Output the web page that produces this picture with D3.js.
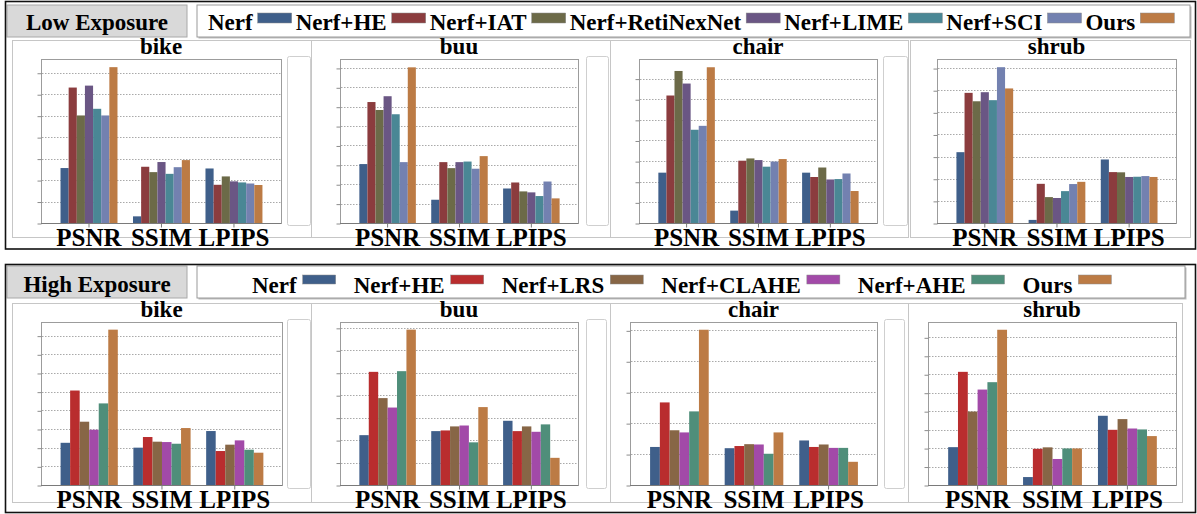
<!DOCTYPE html>
<html><head><meta charset="utf-8">
<script src="https://cdn.jsdelivr.net/npm/d3@7"></script>
<style>
html,body{margin:0;padding:0;background:#fff;}
svg{display:block;}
text{font-family:"Liberation Serif","Times New Roman",serif;font-weight:bold;fill:#000;}
</style></head><body>
<svg id="fig" width="1197" height="514"></svg>
<script>
// ---- data ----
const metrics = ["PSNR", "SSIM", "LPIPS"];
const scenes = ["bike", "buu", "chair", "shrub"];

const lowMethods = ["Nerf", "Nerf+HE", "Nerf+IAT", "Nerf+RetiNexNet", "Nerf+LIME", "Nerf+SCI", "Ours"];
const lowColors = ["#3f5f8a", "#8b3c3e", "#6c6a48", "#6a5684", "#4a8795", "#7381b0", "#bc7b45"];
const highMethods = ["Nerf", "Nerf+HE", "Nerf+LRS", "Nerf+CLAHE", "Nerf+AHE", "Ours"];
const highColors = ["#3f5f8a", "#b92d2e", "#876646", "#a24aa8", "#4f8e7a", "#bc7b45"];

// rows: PSNR, SSIM, LPIPS; columns: methods (values in grid units of each panel)
const lowBike = [
  [2.56, 6.31, 5.01, 6.40, 5.32, 5.01, 7.26],
  [0.31, 2.62, 2.37, 2.84, 2.29, 2.60, 2.93],
  [2.54, 1.78, 2.17, 1.94, 1.89, 1.84, 1.77]];
const lowBuu = [
  [3.04, 6.24, 5.83, 6.54, 5.61, 3.14, 8.03],
  [1.20, 3.14, 2.83, 3.14, 3.17, 2.80, 3.45],
  [1.78, 2.09, 1.63, 1.58, 1.39, 2.14, 1.27]];
const lowChair = [
  [2.44, 6.18, 7.37, 6.76, 4.52, 4.71, 7.55],
  [0.60, 3.02, 3.13, 3.05, 2.73, 2.98, 3.10],
  [2.44, 2.23, 2.69, 2.11, 2.13, 2.40, 1.55]];
const lowShrub = [
  [3.20, 5.88, 5.50, 5.91, 5.55, 7.04, 6.08],
  [0.14, 1.77, 1.17, 1.13, 1.44, 1.76, 1.86],
  [2.87, 2.30, 2.29, 2.08, 2.09, 2.12, 2.08]];

const highBike = [
  [2.26, 5.06, 3.39, 2.96, 4.37, 8.32],
  [2.00, 2.57, 2.32, 2.30, 2.21, 3.05],
  [2.89, 1.82, 2.16, 2.39, 1.89, 1.73]];
const highBuu = [
  [2.22, 5.04, 3.87, 3.45, 5.07, 6.92],
  [2.40, 2.43, 2.61, 2.65, 1.90, 3.47],
  [2.86, 2.40, 2.61, 2.37, 2.70, 1.21]];
const highChair = [
  [1.23, 2.67, 1.77, 1.70, 2.38, 5.02],
  [1.19, 1.26, 1.32, 1.31, 1.01, 1.70],
  [1.44, 1.23, 1.31, 1.20, 1.20, 0.75]];
const highShrub = [
  [2.05, 6.13, 3.98, 5.17, 5.57, 8.41],
  [0.43, 1.96, 2.04, 1.41, 1.98, 1.98],
  [3.75, 2.99, 3.57, 3.06, 3.01, 2.65]];

// top of each value axis
const lowYMax = [7.64, 8.46, 7.95, 7.41];
const highYMax = [8.73, 7.26, 5.27, 8.83];

// ---- layout ----
const sections = [
  {
    title: "Low Exposure", methods: lowMethods, colors: lowColors,
    data: [lowBike, lowBuu, lowChair, lowShrub], yMax: lowYMax,
    border: [5.5, 1.5, 1195.5, 249], head: [7, 5, 180, 32], headTextY: 30,
    legendBox: [197, 5, 993, 32], legendFont: 23, legendStart: 208, legendTextY: 30,
    swY: 13, swH: 10, swW: 34, gapText: 5, gapAfter: 4,
    frameTop: 40, frameBottom: 237, titleY: 54, plotTop: 59, plotBottom: 223, labelY: 246,
    sideTop: 56, sideBottom: 225,
    panels: [
      { x0: 41, w: 240, fx0: 12, fx1: 311, side: [287, 311] },
      { x0: 340, w: 238, fx0: 311, fx1: 610, side: [586, 609] },
      { x0: 639, w: 238, fx0: 610, fx1: 908, side: [883, 908] },
      { x0: 937, w: 239, fx0: 910, fx1: 1190, side: null }]
  },
  {
    title: "High Exposure", methods: highMethods, colors: highColors,
    data: [highBike, highBuu, highChair, highShrub], yMax: highYMax,
    border: [5.5, 264.5, 1195.5, 512.5], head: [7, 266, 180, 32], headTextY: 292,
    legendBox: [197, 266, 988, 32], legendFont: 23, legendStart: 252, legendTextY: 293,
    swY: 275, swH: 9, swW: 33, gapText: 6, gapAfter: 18,
    frameTop: 303, frameBottom: 502, titleY: 317, plotTop: 322, plotBottom: 485, labelY: 508,
    sideTop: 319, sideBottom: 488,
    panels: [
      { x0: 41, w: 241, fx0: 12, fx1: 311, side: [287, 311] },
      { x0: 340, w: 238, fx0: 311, fx1: 610, side: [586, 607] },
      { x0: 630, w: 247, fx0: 610, fx1: 908, side: [884, 905] },
      { x0: 928, w: 248, fx0: 908, fx1: 1182, side: null }]
  }
];

const svg = d3.select("#fig");

function drawSection(s) {
  const g = svg.append("g");

  // header tab and legend box
  g.append("rect").attr("x", s.head[0]).attr("y", s.head[1])
    .attr("width", s.head[2]).attr("height", s.head[3])
    .attr("fill", "#d9d9d9").attr("stroke", "#a8a8a8");
  g.append("text").attr("x", s.head[0] + s.head[2] / 2).attr("y", s.headTextY)
    .attr("text-anchor", "middle").style("font-size", "23px").text(s.title);

  g.append("rect").attr("x", s.legendBox[0] + 1.5).attr("y", s.legendBox[1] + 1.5)
    .attr("width", s.legendBox[2]).attr("height", s.legendBox[3]).attr("fill", "#bdbdbd");
  g.append("rect").attr("x", s.legendBox[0]).attr("y", s.legendBox[1])
    .attr("width", s.legendBox[2]).attr("height", s.legendBox[3])
    .attr("fill", "#fff").attr("stroke", "#9a9a9a");

  let lx = s.legendStart;
  s.methods.forEach((m, i) => {
    const t = g.append("text").attr("x", lx).attr("y", s.legendTextY)
      .style("font-size", s.legendFont + "px").text(m);
    lx += t.node().getComputedTextLength() + s.gapText;
    g.append("rect").attr("x", lx).attr("y", s.swY).attr("width", s.swW).attr("height", s.swH)
      .attr("fill", s.colors[i]).attr("stroke", "#8a8a8a").attr("stroke-width", 0.5);
    lx += s.swW + s.gapAfter;
  });

  // panels
  s.panels.forEach((p, k) => {
    const values = s.data[k];
    const pg = g.append("g");

    pg.append("rect").attr("x", p.fx0 + 0.5).attr("y", s.frameTop + 0.5)
      .attr("width", p.fx1 - p.fx0).attr("height", s.frameBottom - s.frameTop)
      .attr("fill", "none").attr("stroke", "#c6c6c6");

    if (p.side) {
      pg.append("rect").attr("x", p.side[0] + 0.5).attr("y", s.sideTop + 0.5)
        .attr("width", p.side[1] - p.side[0] - 1).attr("height", s.sideBottom - s.sideTop)
        .attr("rx", 2).attr("fill", "#fff").attr("stroke", "#cfcfcf");
    }

    const y = d3.scaleLinear().domain([0, s.yMax[k]]).range([s.plotBottom, s.plotTop]);
    const x = d3.scaleBand().domain(metrics)
      .range([p.x0 + 0.049 * p.w, p.x0 + 0.955 * p.w])
      .paddingInner(0.214).paddingOuter(0.107);
    const xs = d3.scaleBand().domain(d3.range(s.methods.length)).range([0, x.bandwidth()]);

    pg.append("rect").attr("x", p.x0 + 0.5).attr("y", s.plotTop + 0.5)
      .attr("width", p.w).attr("height", s.plotBottom - s.plotTop)
      .attr("fill", "#fff").attr("stroke", "#9c9c9c");

    const grid = d3.range(1, Math.floor(s.yMax[k]) + 1);
    pg.selectAll("line.grid").data(grid).join("line").attr("class", "grid")
      .attr("x1", p.x0 + 1).attr("x2", p.x0 + p.w)
      .attr("y1", d => Math.round(y(d)) + 0.5).attr("y2", d => Math.round(y(d)) + 0.5)
      .attr("stroke", "#a9a9a9").attr("stroke-dasharray", "1.5,1.5");

    const ya = pg.append("g").attr("transform", `translate(${p.x0 + 0.5},0.5)`)
      .call(d3.axisLeft(y).tickValues(d3.range(0, Math.floor(s.yMax[k]) + 1))
        .tickSize(4).tickFormat(""));
    ya.select(".domain").remove();
    ya.selectAll(".tick line").attr("stroke", "#8c8c8c");

    // bars
    metrics.forEach((m, mi) => {
      pg.append("g").selectAll("rect").data(values[mi]).join("rect")
        .attr("x", (d, i) => x(m) + xs(i))
        .attr("width", xs.bandwidth())
        .attr("y", d => y(d))
        .attr("height", d => y(0) - y(d))
        .attr("fill", (d, i) => s.colors[i]);
    });

    // category axis
    const xa = pg.append("g").attr("transform", `translate(0,${s.plotBottom + 0.5})`)
      .call(d3.axisBottom(x).tickSize(4).tickFormat(""));
    xa.select(".domain").attr("stroke", "#7a7a7a")
      .attr("d", `M${p.x0},0H${p.x0 + p.w}`);
    xa.selectAll(".tick line").attr("stroke", "#7a7a7a");

    pg.append("text").attr("x", p.x0 + p.w / 2).attr("y", s.titleY)
      .attr("text-anchor", "middle").style("font-size", "23px").text(scenes[k]);

    pg.selectAll("text.cat").data(metrics).join("text").attr("class", "cat")
      .attr("x", d => x(d) + x.bandwidth() / 2).attr("y", s.labelY)
      .attr("text-anchor", "middle").style("font-size", "25px").text(d => d);
  });

  // outer frame
  g.append("rect").attr("x", s.border[0]).attr("y", s.border[1])
    .attr("width", s.border[2] - s.border[0]).attr("height", s.border[3] - s.border[1])
    .attr("fill", "none").attr("stroke", "#111").attr("stroke-width", 1.6);
}

sections.forEach(drawSection);
</script>
</body></html>
